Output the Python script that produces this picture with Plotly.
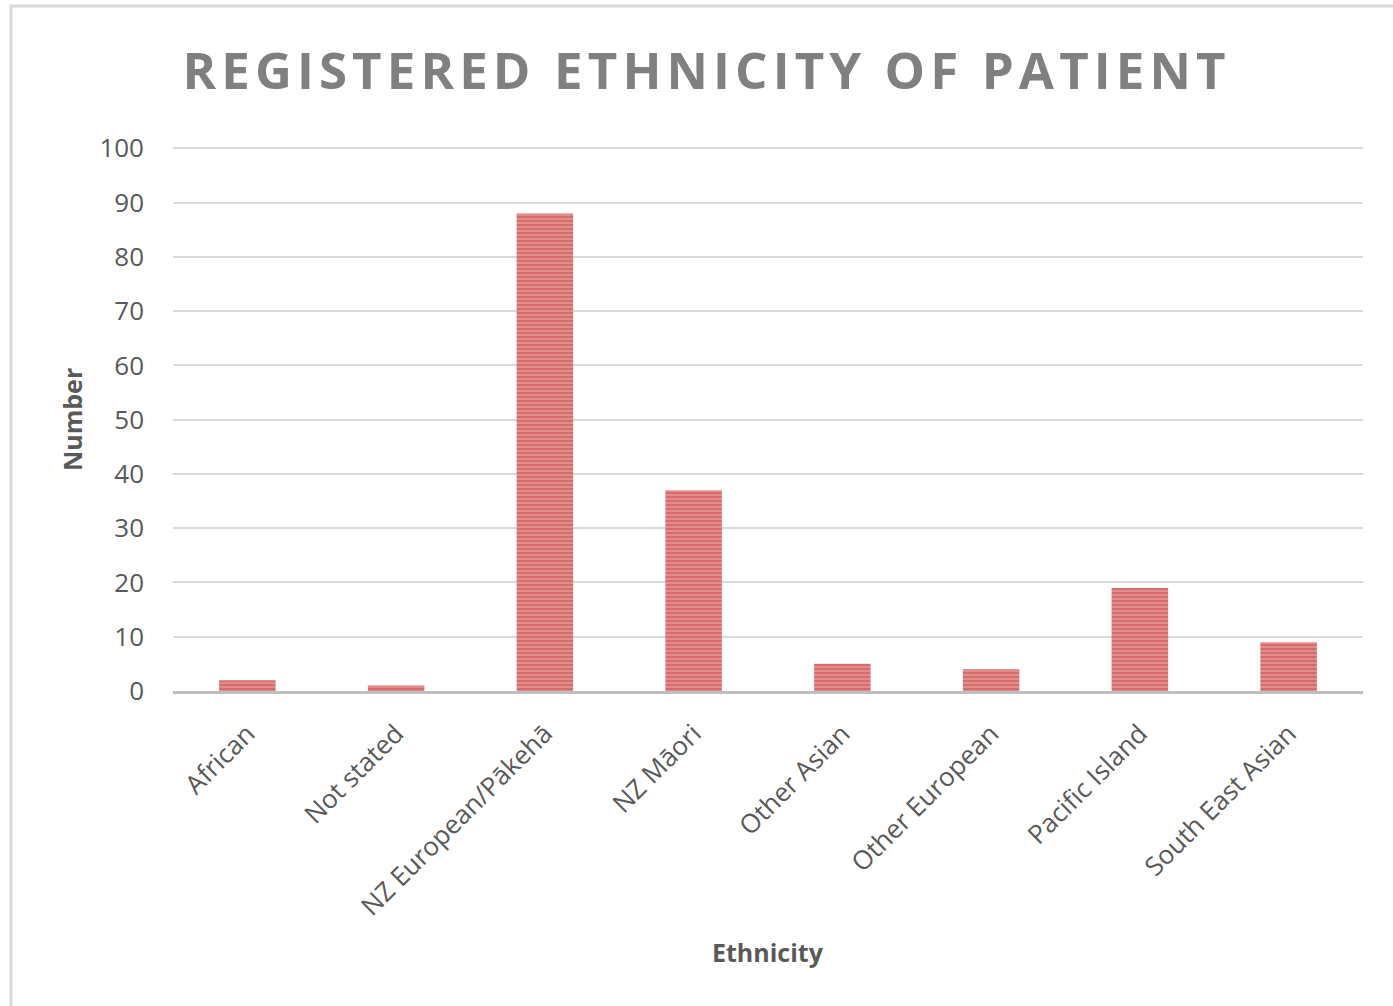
import plotly.graph_objects as go

categories = ["African", "Not stated", "NZ European/Pākehā", "NZ Māori",
              "Other Asian", "Other European", "Pacific Island", "South East Asian"]
values = [2, 1, 88, 37, 5, 4, 19, 9]
y_ticks = [0, 10, 20, 30, 40, 50, 60, 70, 80, 90, 100]
title_text = "REGISTERED ETHNICITY OF PATIENT"

W, H = 1393, 1006
L, R, T, B = 173, 30, 147, 315
pw, ph = W - L - R, H - T - B

def px_x(x):
    return (x - L) / pw

def px_y(y):
    return (H - B - y) / ph

font = "Open Sans"
grey = "#595959"

spaced_title = "\u200a".join(title_text)

fig = go.Figure(go.Bar(
    x=categories, y=values,
    marker=dict(
        color="#d97474",
        line=dict(width=0),
        pattern=dict(shape="-", fgcolor="#c0504d", bgcolor="#e58f8e", size=4, solidity=0.55, fillmode="overlay"),
    ),
))

fig.update_layout(
    width=W, height=H,
    margin=dict(l=L, r=R, t=T, b=B),
    paper_bgcolor="white", plot_bgcolor="white",
    bargap=0.62,
    showlegend=False,
    title=dict(
        text=spaced_title,
        x=704 / W, xref="container", xanchor="center",
        y=1 - 71 / H, yref="container", yanchor="middle",
        font=dict(family=font, size=51, color="#808080", weight="bold"),
    ),
    xaxis=dict(
        tickangle=-45,
        tickfont=dict(family=font, size=26, color=grey),
        showline=True, linecolor="#bfbfbf", linewidth=3,
        showgrid=False, ticks="", ticklabelstandoff=14,
        automargin=False,
    ),
    yaxis=dict(
        range=[0, 100.25],
        tickvals=y_ticks,
        tickfont=dict(family=font, size=26, color=grey),
        showgrid=True, gridcolor="#d9d9d9", gridwidth=1.5,
        zeroline=False, ticks="", ticklabelstandoff=28,
        automargin=False,
    ),
    annotations=[
        dict(text="Ethnicity", xref="paper", yref="paper", x=px_x(768), y=px_y(952),
             xanchor="center", yanchor="middle", showarrow=False,
             font=dict(family=font, size=25, color=grey, weight="bold")),
        dict(text="Number", xref="paper", yref="paper", x=px_x(72), y=px_y(420),
             xanchor="center", yanchor="middle", showarrow=False, textangle=-90,
             font=dict(family=font, size=25, color=grey, weight="bold")),
    ],
)

# chart border
fig.add_shape(type="rect", xref="paper", yref="paper",
              x0=px_x(11), x1=px_x(1400), y0=px_y(1012), y1=px_y(6),
              line=dict(color="#d9d9d9", width=3), fillcolor="rgba(0,0,0,0)", layer="below")

fig.write_html("out.html")
